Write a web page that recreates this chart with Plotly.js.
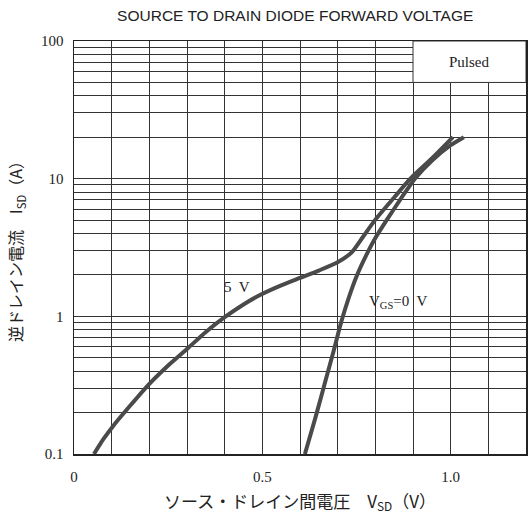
<!DOCTYPE html>
<html>
<head>
<meta charset="utf-8">
<script src="https://cdn.plot.ly/plotly-3.0.1.min.js"></script>
<style>html,body{margin:0;padding:0;background:#fff;}#chart{width:531px;height:517px;}</style>
</head>
<body>
<div id="chart"></div>
<script>
// 5 V curve
const v5_x = [0.053, 0.078, 0.104, 0.15, 0.197, 0.25, 0.303, 0.35, 0.401, 0.45, 0.494, 0.55, 0.60, 0.65, 0.701, 0.738, 0.767, 0.799, 0.85, 0.893, 0.95, 1.006];
const v5_y = [0.1, 0.128, 0.16, 0.226, 0.317, 0.44, 0.589, 0.77, 0.99, 1.22, 1.43, 1.68, 1.9, 2.15, 2.48, 2.93, 3.77, 5.0, 7.3, 10, 14, 20];
// VGS = 0 V curve
const v0_x = [0.613, 0.64, 0.665, 0.69, 0.71, 0.73, 0.75, 0.775, 0.80, 0.83, 0.87, 0.905, 0.95, 1.0, 1.035];
const v0_y = [0.1, 0.18, 0.32, 0.57, 0.92, 1.38, 1.95, 2.75, 3.7, 5.0, 7.3, 10, 13.5, 17.5, 20];

const xTickVals = [0, 0.1, 0.2, 0.3, 0.4, 0.5, 0.6, 0.7, 0.8, 0.9, 1.0, 1.1, 1.2];
const xTickText = ["0", "", "", "", "", "0.5", "", "", "", "", "1.0", "", ""];
const yTickVals = [0.1,0.2,0.3,0.4,0.5,0.6,0.7,0.8,0.9,1,2,3,4,5,6,7,8,9,10,20,30,40,50,60,70,80,90,100];
const yTickText = ["0.1","","","","","","","","","1","","","","","","","","","10","","","","","","","","","100"];

const lineStyle = {color: '#4a4a4a', width: 4, shape: 'spline', smoothing: 0.6};
const traces = [
  {x: v5_x, y: v5_y, mode: 'lines', line: lineStyle, name: '5 V', hoverinfo: 'skip'},
  {x: v0_x, y: v0_y, mode: 'lines', line: lineStyle, name: 'VGS=0 V', hoverinfo: 'skip'}
];

const serif = 'Liberation Serif, DejaVu Serif, serif';
const layout = {
  width: 531, height: 517,
  margin: {l: 74, r: 5, t: 41, b: 63},
  paper_bgcolor: '#fff', plot_bgcolor: '#fff',
  showlegend: false,
  title: {
    text: 'SOURCE TO DRAIN DIODE FORWARD VOLTAGE',
    font: {family: 'Liberation Sans, Arial, sans-serif', size: 15.5, color: '#222'},
    x: 0.556, xref: 'container', xanchor: 'center',
    y: 0.969, yref: 'container', yanchor: 'middle'
  },
  xaxis: {
    range: [0, 1.2],
    tickmode: 'array', tickvals: xTickVals, ticktext: xTickText,
    showgrid: true, gridcolor: '#333', gridwidth: 1,
    zeroline: false, ticks: '', ticklabelstandoff: 8,
    showline: true, linecolor: '#222', linewidth: 1.5, mirror: true,
    tickfont: {family: serif, size: 15, color: '#222'},
    title: {text: 'ソース・ドレイン間電圧　V<sub>SD</sub>（V）', font: {family: 'Noto Sans CJK JP, sans-serif', size: 17, color: '#222'}, standoff: 12}
  },
  yaxis: {
    type: 'log', range: [-1, 2],
    tickmode: 'array', tickvals: yTickVals, ticktext: yTickText,
    showgrid: true, gridcolor: '#333', gridwidth: 1,
    zeroline: false, ticks: '', ticklabelstandoff: 6,
    showline: true, linecolor: '#222', linewidth: 1.5, mirror: true,
    tickfont: {family: serif, size: 15, color: '#222'},
    title: {text: '逆ドレイン電流　I<sub>SD</sub>（A）', font: {family: 'Noto Sans CJK JP, sans-serif', size: 16, color: '#222'}, standoff: 14}
  },
  shapes: [
    {type: 'rect', xref: 'x', yref: 'y', x0: 0.9, x1: 1.2, y0: 50, y1: 100,
     fillcolor: '#fff', line: {color: '#333', width: 1}, layer: 'above'}
  ],
  annotations: [
    {x: 1.05, y: Math.log10(70.5), xref: 'x', yref: 'y', text: 'Pulsed', showarrow: false,
     font: {family: serif, size: 15, color: '#222'}},
    {x: 0.433, y: Math.log10(1.63), xref: 'x', yref: 'y', text: '5  V', showarrow: false,
     font: {family: serif, size: 15, color: '#222'}},
    {x: 0.86, y: Math.log10(1.27), xref: 'x', yref: 'y', text: 'V<sub>GS</sub>=0  V', showarrow: false,
     font: {family: serif, size: 15, color: '#222'}}
  ]
};
Plotly.newPlot('chart', traces, layout, {displayModeBar: false, staticPlot: true});
</script>
</body>
</html>
